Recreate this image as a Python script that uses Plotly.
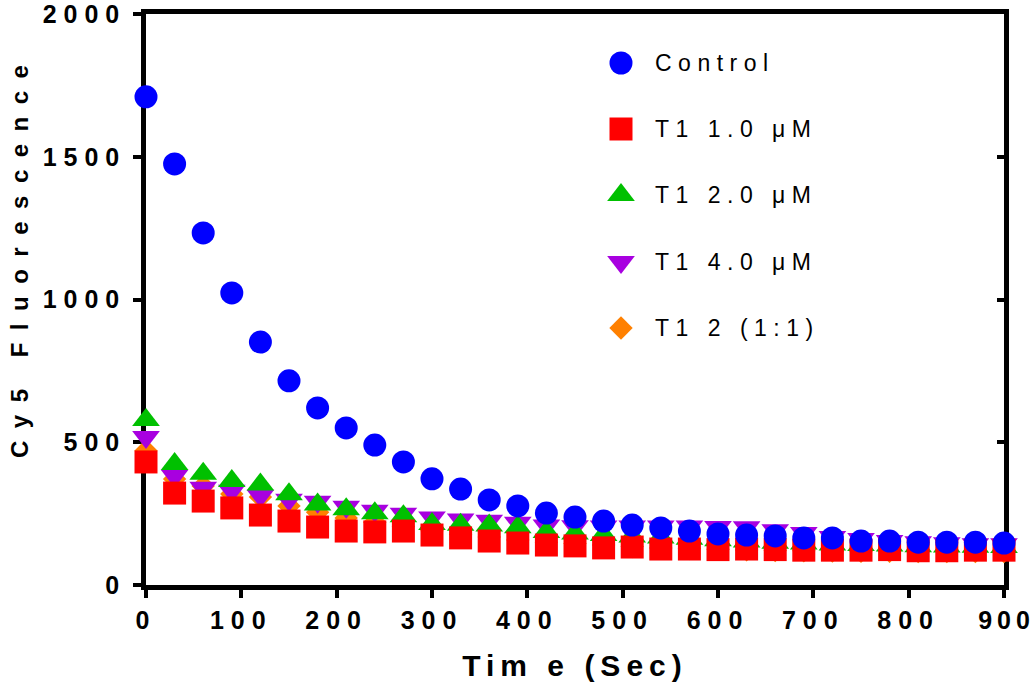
import plotly.graph_objects as go

# Sampling times (s)
time_s = list(range(0, 901, 30))

# Cy5 fluorescence readings per condition
control = [1710, 1475, 1233, 1023, 851, 715, 620, 550, 490, 431, 372, 336, 298,
           277, 252, 238, 224, 210, 200, 189, 179, 175, 172, 165, 165, 154, 154,
           150, 150, 150, 147]
t1_1uM = [431, 322, 294, 270, 245, 224, 203, 189, 186, 189, 175, 165, 154, 147,
          140, 137, 130, 133, 126, 126, 124, 126, 124, 122, 122, 122, 124, 120,
          120, 122, 122]
t1_2uM = [578, 424, 390, 364, 352, 318, 282, 265, 251, 241, 214, 211, 208, 202,
          186, 180, 175, 170, 166, 162, 157, 152, 148, 145, 142, 140, 138, 136,
          135, 134, 133]
t1_4uM = [518, 383, 341, 330, 313, 299, 292, 274, 260, 250, 236, 229, 225, 218,
          208, 206, 205, 205, 205, 205, 203, 202, 192, 182, 168, 161, 154, 150,
          146, 143, 143]
t1_2_mix = [470, 371, 347, 319, 308, 277, 255, 235, 220, 205, 190, 178, 168, 158,
            150, 145, 140, 135, 130, 128, 125, 123, 121, 120, 119, 118, 118, 117,
            117, 117, 117]

x_ticks = list(range(0, 901, 100))
y_ticks = list(range(0, 2001, 500))

FONT = "Liberation Sans, Arial, sans-serif"
W, H = 1031, 699
M_L, M_R, M_T, M_B = 146, 27, 14, 114
AXW = 4.5


def spaced(text, px):
    return f'<span style="letter-spacing:{px}px">{text}</span>'


def x_label(v, last):
    s = str(v)
    if last:
        # tighter, no trailing gap so the rightmost label stays inside the page
        return spaced(s[:-1], 5) + s[-1]
    return spaced(s, 7)


series = [
    # drawn bottom to top
    ("T1 2 (1:1)", t1_2_mix, "diamond", 18, "#FF8000"),
    ("T1 4.0 \u03bcM", t1_4uM, "triangle-down", 24, "#A800E0"),
    ("T1 2.0 \u03bcM", t1_2uM, "triangle-up", 24, "#00C000"),
    ("T1 1.0 \u03bcM", t1_1uM, "square", 23, "#FF0000"),
    ("Control", control, "circle", 23, "#0000FF"),
]

fig = go.Figure()

# empty trace so the mirrored frame axes (top / right) get drawn
fig.add_trace(go.Scatter(x=[None], y=[None], xaxis="x2", yaxis="y2",
                         mode="markers", showlegend=False, hoverinfo="skip"))

for name, vals, sym, size, color in series:
    fig.add_trace(go.Scatter(
        x=time_s, y=vals, mode="markers", name=name, cliponaxis=False,
        marker=dict(symbol=sym, size=size, color=color, line=dict(width=0)),
        showlegend=False,
    ))

# Legend keys drawn on an overlay axis spanning the plot area
pw = W - M_L - M_R
ph = H - M_T - M_B


def fx(px):
    return (px - M_L) / pw


def fy(py):
    return (H - M_B - py) / ph


legend_rows = [63, 129, 195, 262, 328]
legend_order = list(reversed(series))
annotations = []
for row_y, (name, vals, sym, size, color) in zip(legend_rows, legend_order):
    fig.add_trace(go.Scatter(
        x=[fx(621)], y=[fy(row_y)], mode="markers", xaxis="x3", yaxis="y3",
        cliponaxis=False, showlegend=False, hoverinfo="skip",
        marker=dict(symbol=sym, size=size, color=color, line=dict(width=0)),
    ))
    annotations.append(dict(
        x=fx(653), y=fy(row_y), xref="paper", yref="paper", xanchor="left",
        yanchor="middle", showarrow=False, text=spaced(name, 6.5),
        font=dict(family=FONT, size=23, color="black"),
    ))

annotations.append(dict(
    x=fx(20), y=fy(256), xref="paper", yref="paper", xanchor="center",
    yanchor="middle", showarrow=False, textangle=-90,
    text=spaced("Cy5 Fluorescence", 12.5),
    font=dict(family=FONT, size=24, color="black", weight="bold"),
))

tickfont = dict(family=FONT, size=25, color="black", weight="bold")
axis_common = dict(showgrid=False, zeroline=False, showline=True,
                   linecolor="black", linewidth=AXW, tickcolor="black",
                   tickwidth=4, layer="below traces", automargin=False)

fig.update_layout(
    width=W, height=H,
    margin=dict(l=M_L, r=M_R, t=M_T, b=M_B, autoexpand=False),
    paper_bgcolor="white", plot_bgcolor="white",
    showlegend=False,
    annotations=annotations,
    xaxis=dict(range=[0, 900], tickvals=x_ticks,
               ticktext=[x_label(v, i == len(x_ticks) - 1)
                         for i, v in enumerate(x_ticks)],
               ticks="outside", ticklen=8, tickfont=tickfont,
               ticklabelstandoff=1, ticklabeloverflow="allow",
               title=dict(text=spaced("Tim e (Sec)", 6), standoff=24,
                          font=dict(family=FONT, size=30, color="black",
                                    weight="bold")),
               **axis_common),
    yaxis=dict(range=[0, 2000], tickvals=y_ticks,
               ticktext=[spaced(str(v), 7) for v in y_ticks],
               ticks="outside", ticklen=8, tickfont=tickfont,
               ticklabelstandoff=2, ticklabeloverflow="allow",
               **axis_common),
    xaxis2=dict(overlaying="x", side="top", anchor="y", range=[0, 900],
                tickvals=x_ticks, ticks="", showticklabels=False,
                **axis_common),
    yaxis2=dict(overlaying="y", side="right", anchor="x", range=[0, 2000],
                tickvals=y_ticks, ticks="inside", ticklen=7,
                showticklabels=False, **axis_common),
    xaxis3=dict(overlaying="x", range=[0, 1], visible=False, anchor="y3",
                automargin=False),
    yaxis3=dict(overlaying="y", range=[0, 1], visible=False, anchor="x3",
                automargin=False),
)

fig.write_html("out.html")
